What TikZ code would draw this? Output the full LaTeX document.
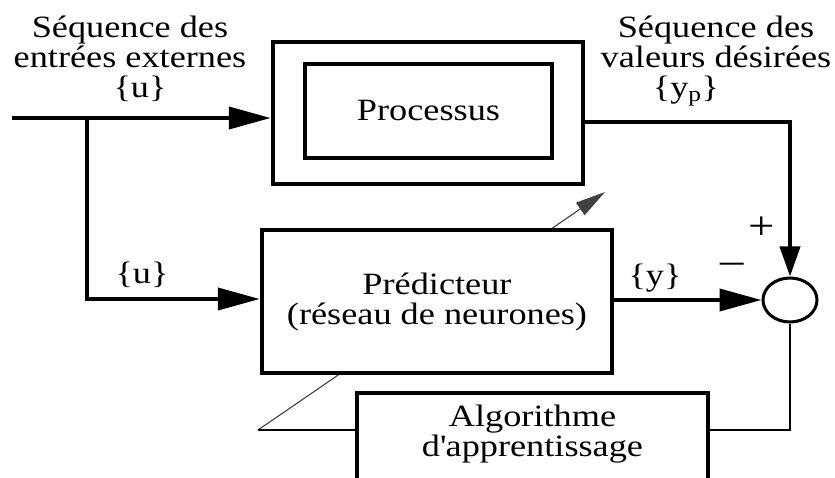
\documentclass[tikz,border=0pt]{standalone}
\usepackage{fontspec}
\setmainfont{Liberation Serif}[FakeStretch=1.17]
\usetikzlibrary{arrows.meta,shapes.geometric}
\begin{document}
\begin{tikzpicture}[x=1pt,y=-1pt,
  box/.style={draw,line width=4.5pt,fill=white,inner sep=0pt,minimum width=#1},
  conn/.style={line width=4pt},
  hhead/.style={-{Triangle[length=42pt,width=22pt]}},
  vhead/.style={-{Triangle[length=30pt,width=20pt]}},
  fine/.style={line width=1.5pt},
  lbl/.style={font=\fontsize{31}{30}\selectfont,align=center,inner sep=0pt},
  sign/.style={font=\fontsize{40}{40}\selectfont,inner sep=0pt}]
\clip (0,0) rectangle (835,478);
\useasboundingbox (0,0) rectangle (835,478);
% diagonal adjustment line (hidden behind predictor)
\coordinate (fbl) at (258,430);
\coordinate (tip) at (605,192);
\draw[line width=1.1pt,black!75,-{Triangle[length=30pt,width=15pt]}] (fbl) -- (tip);
% boxes
\node[box=310pt,minimum height=142pt] (outer) at (428,113) {};
\node[box=247pt,minimum height=94pt] (inner) at (428.5,111) {};
\node[lbl] (proc) at (inner.center) {Processus};
\node[box=350pt,minimum height=143pt] (pred) at (437,301.5) {};
\node[lbl] (predt) at (437,302) {Prédicteur\\(réseau de neurones)};
\node[box=351pt,minimum height=126pt] (alg) at (532.5,456) {};
\node[lbl] (algt) at (532.5,434) {Algorithme\\d\textquotesingle apprentissage};
\node[draw,ellipse,line width=3pt,minimum width=54pt,minimum height=44pt,inner sep=0pt] (sum) at (790,300) {};
% coordinates
\coordinate (in) at (12,118);
\coordinate (br) at (87,118);
\coordinate (br2) at (87,299);
\coordinate (yout) at (0,122);
% connectors
\draw[conn,hhead] (in) -- (outer.west |- in);
\draw[conn,hhead] (br) -- (br2) -- (pred.west |- br2);
\draw[conn,vhead] (outer.east |- yout) -- (sum.north |- yout) -- (sum.north);
\draw[conn,hhead] (pred.east |- sum.west) -- (sum.west);
\draw[fine] (sum.south) |- (alg.east |- fbl);
\draw[fine] (fbl) -- (alg.west |- fbl);
% labels
\node[lbl] (lin) at (130,42) {Séquence des\\entrées externes};
\node[lbl] (u1) at (140,89) {\{u\}};
\node[lbl] (ldes) at (716,42) {Séquence des\\valeurs désirées};
\node[lbl] (yp) at (686,91) {\{y\textsubscript{p}\}};
\node[lbl] (u2) at (142,275) {\{u\}};
\node[lbl] (y) at (655,278) {\{y\}};
\node[sign] (plus) at (762,228) {+};
\node[sign] (minus) at (732,268) {–};
\end{tikzpicture}
\end{document}
